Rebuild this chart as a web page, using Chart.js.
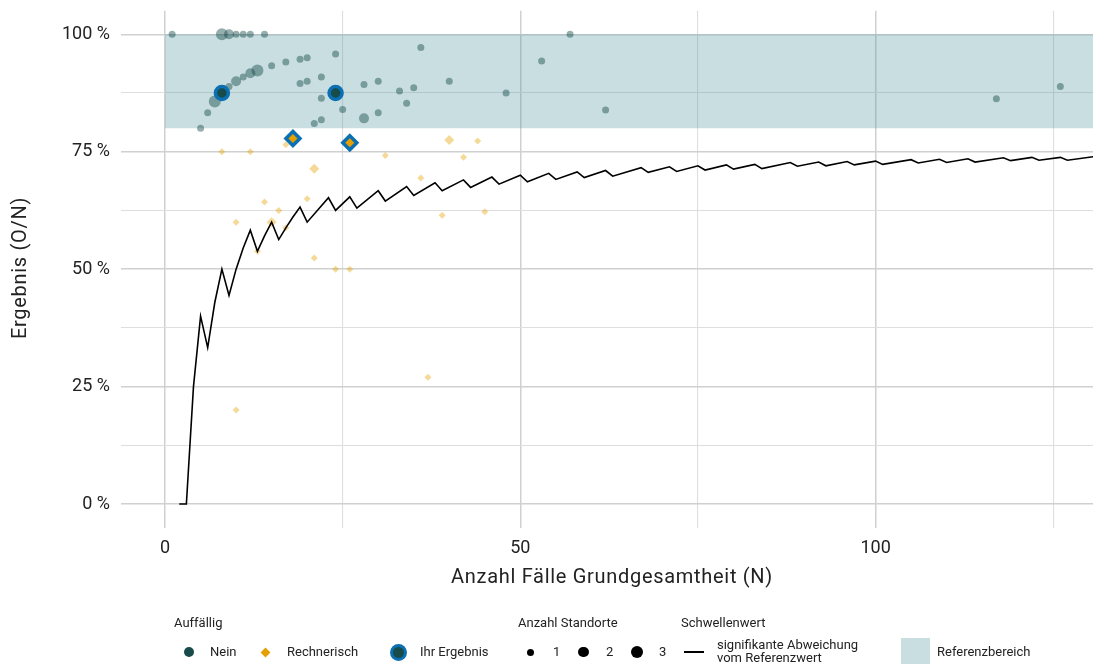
<!DOCTYPE html>
<html>
<head>
<meta charset="utf-8">
<script src="https://cdn.jsdelivr.net/npm/chart.js@4/dist/chart.umd.min.js"></script>
<style>
  body { margin: 0; background: #fff; }
  #wrap { position: relative; width: 1093px; height: 664px; overflow: hidden; font-family: Roboto, sans-serif; color: #222; }
  #chart { position: absolute; left: 0; top: 0; }
  .lg { position: absolute; font-size: 13px; line-height: 16px; white-space: nowrap; }
  .sym { position: absolute; box-sizing: border-box; }
</style>
</head>
<body>
<div id="wrap">
  <canvas id="chart" width="1093" height="664"></canvas>

  <div class="lg" style="left:174px;top:615px">Auffällig</div>
  <div class="sym" style="left:183.5px;top:647px;width:10px;height:10px;border-radius:50%;background:#174c4a"></div>
  <div class="lg" style="left:210px;top:644px">Nein</div>
  <div class="sym" style="left:261.5px;top:648.5px;width:7px;height:7px;background:#e69f00;transform:rotate(45deg)"></div>
  <div class="lg" style="left:287px;top:644px">Rechnerisch</div>
  <div class="sym" style="left:390px;top:643.5px;width:17px;height:17px;border-radius:50%;background:#174c4a;border:3px solid #0b6fb3"></div>
  <div class="lg" style="left:420px;top:644px">Ihr Ergebnis</div>

  <div class="lg" style="left:518px;top:615px">Anzahl Standorte</div>
  <div class="sym" style="left:526.5px;top:648.5px;width:7px;height:7px;border-radius:50%;background:#000"></div>
  <div class="lg" style="left:553px;top:644px">1</div>
  <div class="sym" style="left:578.3px;top:646.8px;width:10.5px;height:10.5px;border-radius:50%;background:#000"></div>
  <div class="lg" style="left:606px;top:644px">2</div>
  <div class="sym" style="left:630.5px;top:646px;width:12px;height:12px;border-radius:50%;background:#000"></div>
  <div class="lg" style="left:659px;top:644px">3</div>

  <div class="lg" style="left:681px;top:615px">Schwellenwert</div>
  <div class="sym" style="left:684px;top:651px;width:20px;height:2px;background:#000"></div>
  <div class="lg" style="left:717px;top:638px;line-height:13px">signifikante Abweichung<br>vom Referenzwert</div>

  <div class="sym" style="left:901px;top:638px;width:29px;height:26px;background:#c9dee1"></div>
  <div class="lg" style="left:937px;top:644px">Referenzbereich</div>
</div>

<script>
// Achsen
var xMin = -6.2, xMax = 130.6;
var yMin = -5, yMax = 105;
var refLow = 80, refHigh = 100;

// Auffällig: Nein (N, Ergebnis in %, Anzahl Standorte)
var neinN    = [1, 8, 9, 10, 11, 12, 14, 36, 24, 20, 19, 17, 15, 13, 12, 11, 10, 9, 7, 6, 5, 19, 20, 22, 22, 25, 22, 21, 28, 30, 28, 30, 33, 34, 35, 40, 48, 53, 57, 62, 117, 126];
var neinPct  = [100, 100, 100, 100, 100, 100, 100, 97.2, 95.8, 95.0, 94.7, 94.1, 93.3, 92.3, 91.7, 90.9, 90.0, 88.9, 85.7, 83.3, 80.0, 89.5, 90.0, 90.9, 86.4, 84.0, 81.8, 81.0, 82.1, 83.3, 89.3, 90.0, 87.9, 85.3, 88.6, 90.0, 87.5, 94.3, 100, 83.9, 86.3, 88.9];
var neinSize = [1, 3, 2, 1, 1, 1, 1, 1, 1, 1, 1, 1, 1, 3, 2, 1, 2, 1, 3, 1, 1, 1, 1, 1, 1, 1, 1, 1, 2, 1, 1, 1, 1, 1, 1, 1, 1, 1, 1, 1, 1, 1];

// Auffällig: Rechnerisch
var rechN    = [8, 12, 17, 31, 40, 44, 42, 21, 14, 20, 16, 10, 15, 17, 13, 21, 24, 26, 36, 39, 45, 37, 10];
var rechPct  = [75.0, 75.0, 76.5, 74.2, 77.5, 77.3, 73.8, 71.4, 64.3, 65.0, 62.5, 60.0, 60.0, 58.8, 53.8, 52.4, 50.0, 50.0, 69.4, 61.5, 62.2, 27.0, 20.0];
var rechSize = [1, 1, 1, 1, 2, 1, 1, 2, 1, 1, 1, 1, 2, 1, 1, 1, 1, 1, 1, 1, 1, 1, 1];

// Ihr Ergebnis
var ihrNeinN = [8, 24];
var ihrNeinPct = [87.5, 87.5];
var ihrRechN = [18, 26];
var ihrRechPct = [77.8, 76.9];

// Schwellenwert: signifikante Abweichung vom Referenzwert
var schwelleN   = [2, 3, 4, 5, 6, 7, 8, 9, 10, 11, 12, 13, 14, 15, 16, 17, 18, 19, 20, 23, 24, 26, 27, 30, 31, 34, 35, 38, 39, 42, 43, 46, 47, 50, 51, 54, 55, 58, 59, 62, 63, 67, 68, 71, 72, 75, 76, 79, 80, 83, 84, 88, 89, 92, 93, 96, 97, 100, 101, 105, 106, 109, 110, 113, 114, 118, 119, 122, 123, 126, 127, 131];
var schwellePct = [0, 0, 25, 40, 33.3, 42.9, 50, 44.4, 50, 54.5, 58.3, 53.8, 57.1, 60, 56.3, 58.8, 61.1, 63.2, 60, 65.2, 62.5, 65.4, 63.0, 66.7, 64.5, 67.6, 65.7, 68.4, 66.7, 69.0, 67.4, 69.6, 68.1, 70.0, 68.6, 70.4, 69.1, 70.7, 69.5, 71.0, 69.8, 71.6, 70.6, 71.8, 70.8, 72.0, 71.1, 72.2, 71.3, 72.3, 71.4, 72.7, 71.9, 72.8, 72.0, 72.9, 72.2, 73.0, 72.3, 73.3, 72.6, 73.4, 72.7, 73.5, 72.8, 73.7, 73.1, 73.8, 73.2, 73.8, 73.2, 74.0];

var sizeRadius = [0, 3.5, 5, 6];

function pts(xs, ys) {
  return xs.map(function(x, i) { return { x: x, y: ys[i] }; });
}

var tickFont = { family: 'Roboto', size: 18, weight: '400' };
var titleFont = '400 20px Roboto';

var refBand = {
  id: 'refBand',
  beforeDatasetsDraw: function(chart) {
    var ctx = chart.ctx, a = chart.chartArea;
    var xs = chart.scales.x, ys = chart.scales.y;
    var x0 = xs.getPixelForValue(0);
    var y0 = ys.getPixelForValue(refHigh), y1 = ys.getPixelForValue(refLow);
    ctx.save();
    ctx.fillStyle = 'rgba(75,145,155,0.3)';
    ctx.fillRect(x0, y0, a.right - x0, y1 - y0);
    ctx.restore();
  }
};

var axisTitles = {
  id: 'axisTitles',
  afterDraw: function(chart) {
    var ctx = chart.ctx;
    ctx.save();
    ctx.fillStyle = '#222';
    ctx.font = titleFont;
    ctx.letterSpacing = '0.7px';
    ctx.textAlign = 'center';
    ctx.textBaseline = 'middle';
    ctx.fillText('Anzahl Fälle Grundgesamtheit (N)', 612, 578);
    ctx.translate(21, 268);
    ctx.rotate(-Math.PI / 2);
    ctx.fillText('Ergebnis (O/N)', 0, 0);
    ctx.restore();
  }
};

function gridWidth(ctx, major) {
  return ctx.tick && ctx.tick.value % major === 0 ? 1.5 : 1.1;
}
function gridColor(ctx, major) {
  return ctx.tick && ctx.tick.value % major === 0 ? '#d0d0d0' : '#dedede';
}

new Chart(document.getElementById('chart'), {
  type: 'scatter',
  data: {
    datasets: [
      {
        data: pts(ihrRechN, ihrRechPct),
        pointStyle: 'rectRot',
        pointRadius: 7,
        backgroundColor: '#e69f00',
        borderColor: '#0b6fb3',
        borderWidth: 3.5,
        order: 0
      },
      {
        data: pts(ihrNeinN, ihrNeinPct),
        pointStyle: 'circle',
        pointRadius: 6.5,
        backgroundColor: '#174c4a',
        borderColor: '#0b6fb3',
        borderWidth: 3.5,
        order: 1
      },
      {
        data: pts(schwelleN, schwellePct),
        showLine: true,
        pointRadius: 0,
        borderColor: '#000',
        borderWidth: 1.6,
        order: 2
      },
      {
        data: pts(rechN, rechPct),
        pointStyle: 'rectRot',
        pointRadius: function(c) { return sizeRadius[rechSize[c.dataIndex]]; },
        backgroundColor: 'rgba(230,159,0,0.4)',
        borderWidth: 0,
        order: 3
      },
      {
        data: pts(neinN, neinPct),
        pointStyle: 'circle',
        pointRadius: function(c) { return sizeRadius[neinSize[c.dataIndex]]; },
        backgroundColor: 'rgba(23,76,74,0.45)',
        borderWidth: 0,
        order: 4
      }
    ]
  },
  options: {
    responsive: false,
    animation: false,
    devicePixelRatio: 1,
    events: [],
    layout: { autoPadding: false, padding: { top: 10.5, right: 0, bottom: 0, left: 0 } },
    plugins: { legend: { display: false }, tooltip: { enabled: false } },
    scales: {
      x: {
        type: 'linear',
        min: xMin,
        max: xMax,
        afterFit: function(s) { s.height = 664 - 527.5; },
        border: { display: false },
        grid: {
          drawTicks: false,
          lineWidth: function(c) { return gridWidth(c, 50); },
          color: function(c) { return gridColor(c, 50); }
        },
        ticks: {
          stepSize: 25,
          includeBounds: false,
          autoSkip: false,
          maxRotation: 0,
          padding: 10,
          color: '#222',
          font: tickFont,
          callback: function(v) { return v % 50 === 0 ? String(v) : ''; }
        }
      },
      y: {
        min: yMin,
        max: yMax,
        afterFit: function(s) { s.width = 121; },
        border: { display: false },
        grid: {
          drawTicks: true,
          tickLength: 11,
          tickColor: 'rgba(0,0,0,0)',
          lineWidth: function(c) { return gridWidth(c, 25); },
          color: function(c) { return gridColor(c, 25); }
        },
        ticks: {
          stepSize: 12.5,
          includeBounds: false,
          autoSkip: false,
          padding: 0,
          color: '#222',
          font: tickFont,
          callback: function(v) { return v % 25 === 0 ? v + ' %' : ''; }
        }
      }
    }
  },
  plugins: [refBand, axisTitles]
});
</script>
</body>
</html>
